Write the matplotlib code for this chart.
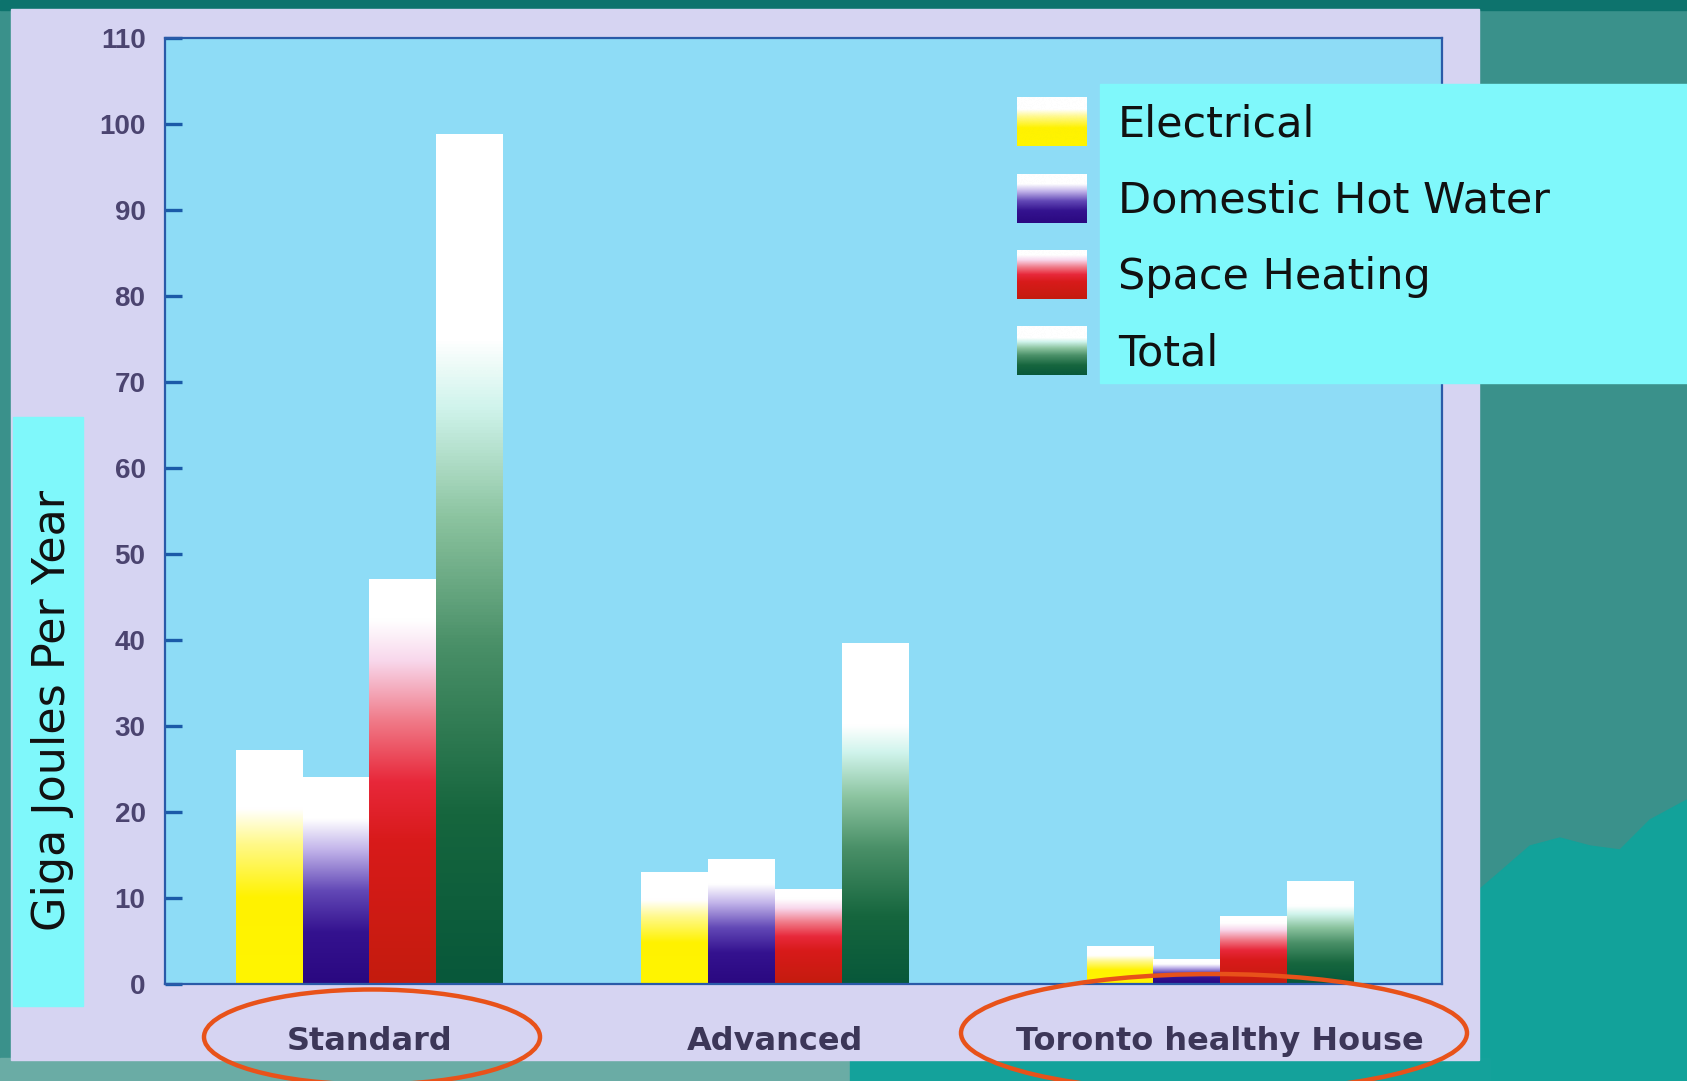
import numpy as np
import matplotlib
matplotlib.use("Agg")
import matplotlib.pyplot as plt
from matplotlib.colors import LinearSegmentedColormap
from matplotlib.patches import Rectangle, Ellipse, Polygon
from matplotlib.legend_handler import HandlerBase
from matplotlib.image import BboxImage
from matplotlib.transforms import Bbox, TransformedBbox

# data
houses = ["Standard", "Advanced", "Toronto healthy House"]
series = ["Electrical", "Domestic Hot Water", "Space Heating", "Total"]
electrical = [27.2, 13.0, 4.4]
hot_water = [24.0, 14.5, 2.8]
space_heating = [47.0, 11.0, 7.9]
total = [98.8, 39.6, 11.9]
yticks = list(range(0, 111, 10))

values = [electrical, hot_water, space_heating, total]

# gradient colormaps (bottom -> top)
cmaps = [
    LinearSegmentedColormap.from_list("el", [(0, "#fff500"), (0.37, "#fff200"), (0.6, "#fff98a"), (0.75, "#ffffff"), (1, "#ffffff")]),
    LinearSegmentedColormap.from_list("hw", [(0, "#2a0880"), (0.25, "#34128f"), (0.45, "#6248b6"), (0.65, "#c2b4ea"), (0.8, "#ffffff"), (1, "#ffffff")]),
    LinearSegmentedColormap.from_list("sh", [(0, "#c41c0e"), (0.35, "#d81a1a"), (0.5, "#e8283a"), (0.65, "#f07a88"), (0.8, "#f8d8ec"), (0.9, "#ffffff"), (1, "#ffffff")]),
    LinearSegmentedColormap.from_list("tot", [(0, "#08583a"), (0.2, "#16663e"), (0.4, "#4a9068"), (0.55, "#8cc4a0"), (0.68, "#d0f4ec"), (0.76, "#ffffff"), (1, "#ffffff")]),
]
grad = np.linspace(0, 1, 256).reshape(-1, 1)

W, H = 1687, 1081
fig = plt.figure(figsize=(W / 100, H / 100), dpi=100)

# slide background, drawn in pixel coordinates
bg = fig.add_axes([0, 0, 1, 1], zorder=-1)
bg.axis("off")
bg.add_patch(Rectangle((0, 0), W, H, color="#3a918b"))
bg.add_patch(Rectangle((0, 0), W, 10, color="#0d736d"))
right_cmap = LinearSegmentedColormap.from_list("bgr", ["#5aa59e", "#4a9893", "#1f7f7a"])
bg.imshow(grad, extent=[1479, W, H, 10], cmap=right_cmap, aspect="auto", origin="lower")
bg.add_patch(Polygon([(1479, 890), (1500, 872), (1530, 846), (1560, 838), (1590, 846),
                      (1620, 850), (1650, 820), (1687, 800), (1687, 1081), (1479, 1081)],
                     closed=True, color="#12a29a"))
bg.add_patch(Rectangle((0, 1058), 850, 30, color="#6aaca5"))
bg.add_patch(Rectangle((850, 1058), 640, 30, color="#14a29b"))
bg.add_patch(Rectangle((11, 9), 1468, 1051, color="#d6d4f2"))
bg.add_patch(Rectangle((13, 417), 70, 589, color="#7ff8fb"))
bg.set_xlim(0, W)
bg.set_ylim(H, 0)

# main chart
ax = fig.add_axes([165 / W, 1 - 984 / H, (1442 - 165) / W, (984 - 38) / H])
ax.set_facecolor("#8edcf6")
centers = np.array([0, 1, 2.098])
bw = 0.1645
offsets = np.array([-1.5, -0.5, 0.5, 1.5]) * bw

for vals, cm, off, name in zip(values, cmaps, offsets, series):
    bars = ax.bar(centers + off, vals, bw, facecolor="none", edgecolor="none", label=name)
    for b in bars:
        x0, w, h = b.get_x(), b.get_width(), b.get_height()
        ax.imshow(grad, extent=[x0, x0 + w, 0, h], cmap=cm, aspect="auto",
                  origin="lower", interpolation="bicubic", zorder=2)

ax.set_xlim(-0.504, 2.645)
ax.set_ylim(0, 110)
ax.set_yticks(yticks)
ax.set_xticks(centers, houses)
for s in ax.spines.values():
    s.set_color("#2a5aa8")
    s.set_linewidth(1.6)
ax.tick_params(axis="y", direction="in", length=12, width=2.4, color="#1a5aa8",
               pad=14, labelcolor="#4b4470", labelsize=20)
ax.tick_params(axis="x", length=0, pad=30, labelcolor="#3c3658", labelsize=23)
for t in ax.get_yticklabels():
    t.set_fontfamily("Liberation Sans")
    t.set_fontweight("bold")
for t in ax.get_xticklabels():
    t.set_fontweight("bold")
ax.set_ylabel("Giga Joules Per Year", fontsize=32, color="#111111")
ax.yaxis.set_label_coords(-0.071, 0.2896)

# legend on a cyan strip
fig.add_artist(Rectangle((1100 / W, 1 - 383 / H), (W - 1100) / W, (383 - 84) / H,
                         transform=fig.transFigure, color="#7ff8fb", zorder=1))


class GradientHandler(HandlerBase):
    def __init__(self, cmap):
        super().__init__()
        self.cmap = cmap

    def create_artists(self, legend, orig_handle, xdescent, ydescent, width, height, fontsize, trans):
        bb = TransformedBbox(Bbox.from_bounds(-xdescent, -ydescent, width, height), trans)
        img = BboxImage(bb, cmap=self.cmap, origin="lower", interpolation="bicubic")
        img.set_data(grad)
        return [img]


proxies = [Rectangle((0, 0), 1, 1) for _ in series]
leg = fig.legend(proxies, series, loc="upper left", bbox_to_anchor=(1017 / W, 1 - 98 / H),
                 frameon=False, fontsize=31, handlelength=1.62, handleheight=1.35,
                 handletextpad=0.72, labelspacing=0.65, borderpad=0, borderaxespad=0,
                 handler_map={p: GradientHandler(c) for p, c in zip(proxies, cmaps)})
leg.set_zorder(5)
for t in leg.get_texts():
    t.set_color("#111111")

# orange highlight ellipses
for cx, cy, ew, eh in [(372, 1037, 336, 95), (1214, 1033, 506, 118)]:
    fig.add_artist(Ellipse((cx / W, 1 - cy / H), ew / W, eh / H, transform=fig.transFigure,
                           fill=False, edgecolor="#e8521a", linewidth=3.2, zorder=6))

fig.savefig("out.png", dpi=100)
